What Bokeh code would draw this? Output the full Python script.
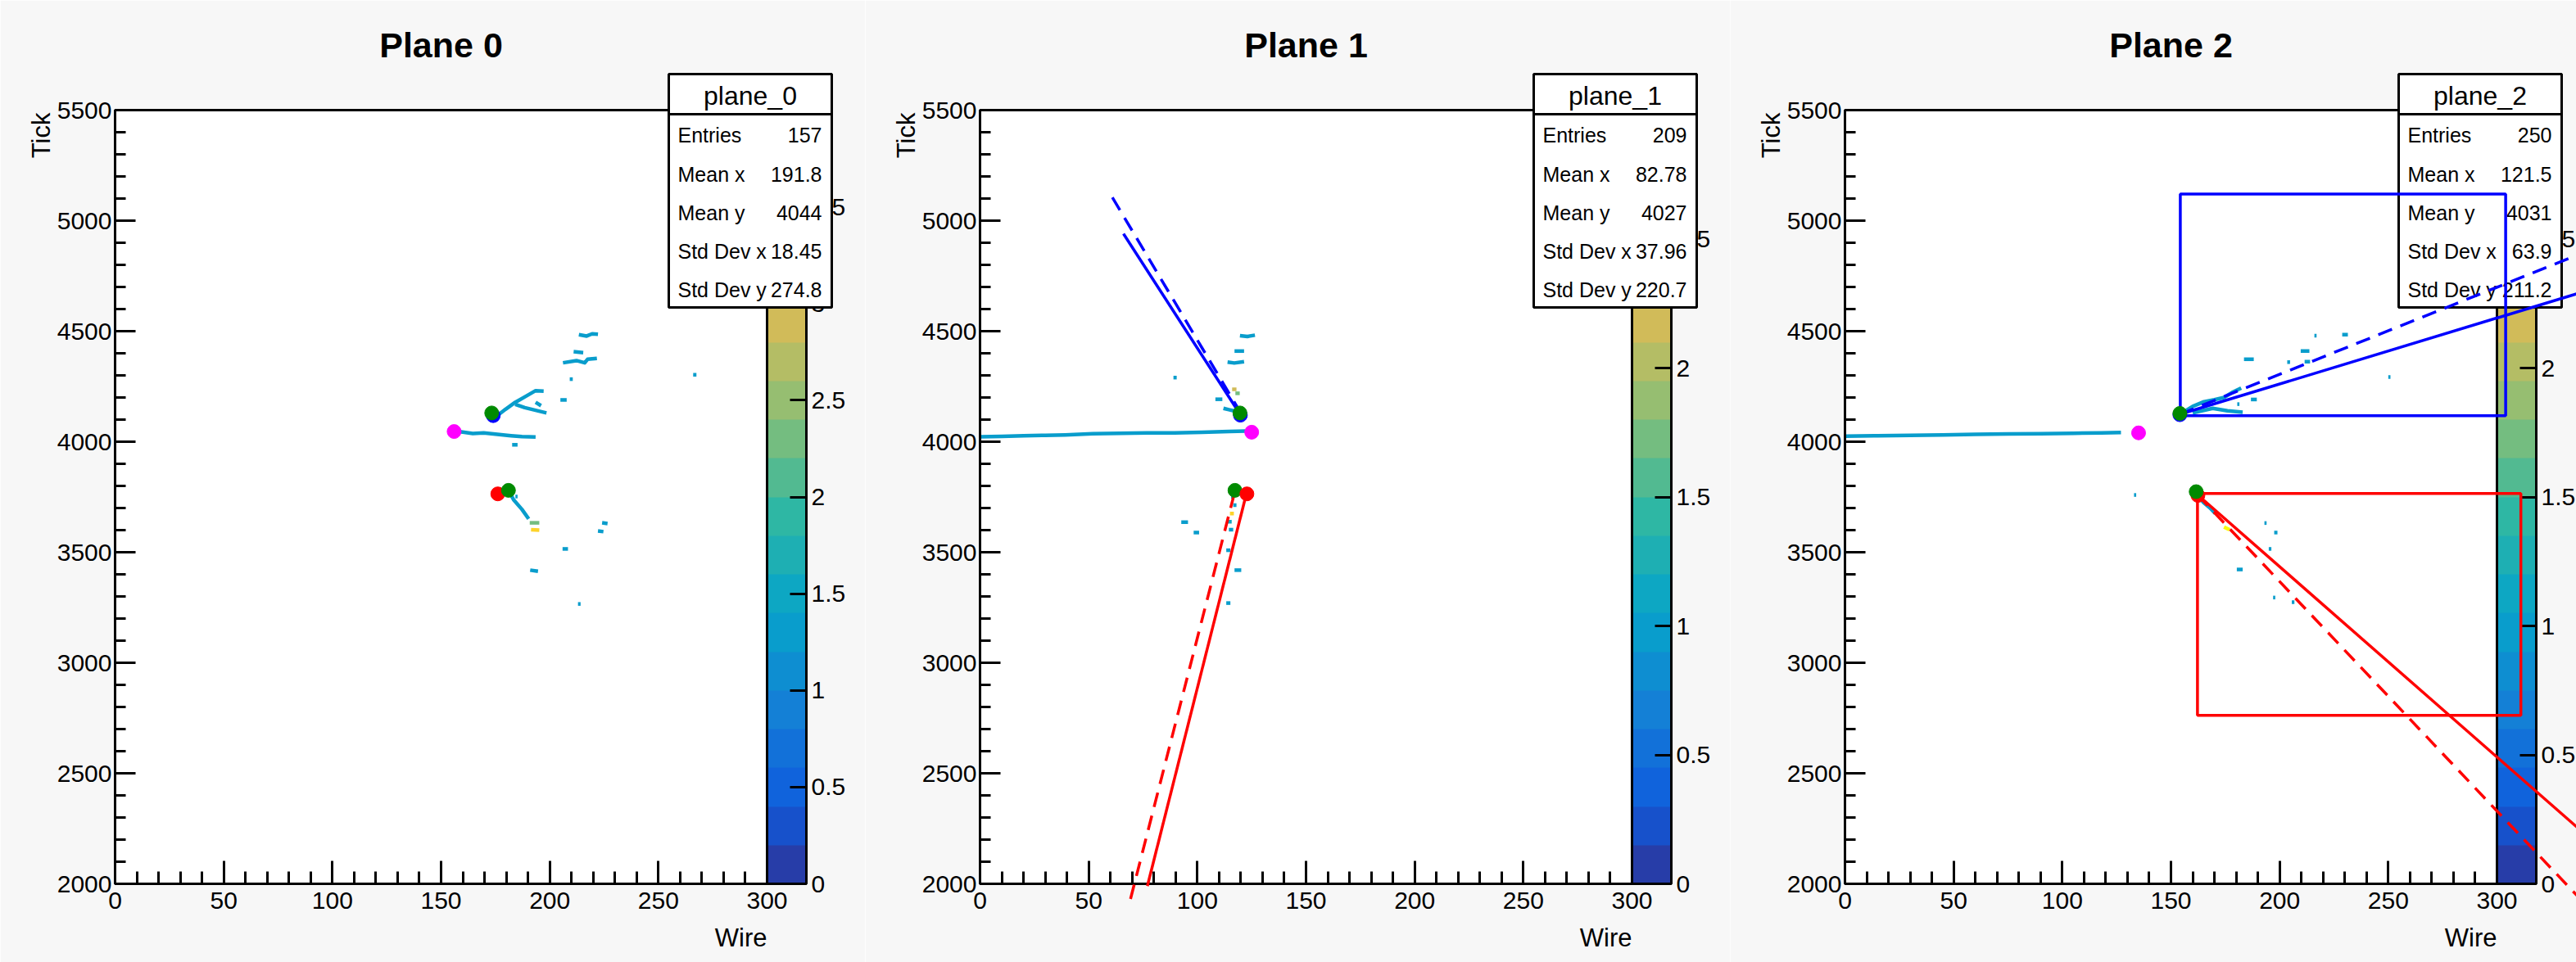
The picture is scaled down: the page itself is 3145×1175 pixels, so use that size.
import math
from bokeh.plotting import figure
from bokeh.layouts import row
from bokeh.models import (Range1d, FixedTicker, ColorBar, LinearColorMapper,
                          ColumnDataSource, NumeralTickFormatter)
from bokeh.core.properties import value
from bokeh.embed import file_html
from bokeh.resources import INLINE

# ---------------------------------------------------------------- data
plane_titles = ["Plane 0", "Plane 1", "Plane 2"]
hist_names = ["plane_0", "plane_1", "plane_2"]
stat_labels = ["Entries", "Mean x", "Mean y", "Std Dev x", "Std Dev y"]
stats_p0 = ["157", "191.8", "4044", "18.45", "274.8"]
stats_p1 = ["209", "82.78", "4027", "37.96", "220.7"]
stats_p2 = ["250", "121.5", "4031", "63.9", "211.2"]
z_max = [4.0, 3.0, 3.0]
x_title = "Wire"
y_title = "Tick"

x_ticks = [0, 50, 100, 150, 200, 250, 300]
y_ticks = [2000, 2500, 3000, 3500, 4000, 4500, 5000, 5500]
z_ticks = [0, 0.5, 1, 1.5, 2, 2.5, 3, 3.5, 4]

# hits (wire, tick polylines of filled bins) with charge value z
p0_hit_wire = [
    [158, 164.6, 169.6, 175.9, 182.2, 187.2, 193.5],
    [176.4, 179.7, 184.1, 189.1, 193.5, 197.2],
    [184.1, 188.5, 193.5, 198.5],
    [193.5, 196.0],
    [204.9, 207.8],
    [209.2, 210.6],
    [206.1, 212.3, 216.1, 217.4, 221.7],
    [211.0, 215.4],
    [213.4, 217.0, 219.5, 222.2],
    [182.7, 185.2],
    [181.6, 183.4, 187.2, 190.3],
    [184.2, 185.2],
    [190.8, 195.2],
    [191.4, 195.2],
    [224.1, 226.6],
    [222.2, 224.7],
    [205.9, 208.4],
    [191.0, 194.6],
    [213.0, 214.2],
    [266.0, 267.5],
]
p0_hit_tick = [
    [4046, 4037, 4040, 4033, 4027, 4023, 4021],
    [4122, 4147, 4178, 4206, 4231, 4229],
    [4169, 4154, 4142, 4130],
    [4178, 4163],
    [4189, 4189],
    [4283, 4283],
    [4357, 4367, 4357, 4373, 4377],
    [4407, 4403],
    [4484, 4478, 4488, 4486],
    [3986, 3986],
    [3770, 3737, 3694, 3651],
    [3752, 3752],
    [3633, 3633],
    [3602, 3600],
    [3633, 3630],
    [3596, 3593],
    [3515, 3515],
    [3419, 3414],
    [3266, 3266],
    [4303, 4303],
]
p0_hit_z = [1.3, 1.3, 1.3, 1.3, 1.3, 1.3, 1.3, 1.3, 1.3, 1.3, 1.3, 1.3,
            2.3, 3.4, 1.3, 1.3, 1.3, 1.3, 1.3, 1.3]

p1_hit_wire = [
    [0, 10, 20, 30, 39.2, 51.8, 64.3, 76.9, 89.5, 102.1, 114.6, 122.2],
    [119.6, 123.0, 126.5],
    [117.1, 121.5],
    [113.9, 117.0, 121.5],
    [89.0, 90.5],
    [108.3, 111.5],
    [116.0, 118.0],
    [117.5, 119.5],
    [112.0, 114.5, 117.1],
    [115.5, 117.0],
    [116.5, 118.0],
    [115.0, 116.8],
    [114.0, 115.8],
    [114.5, 116.5],
    [92.6, 95.7],
    [98.3, 100.8],
    [113.3, 115.2],
    [117.1, 120.2],
    [113.3, 115.2],
]
p1_hit_tick = [
    [4022, 4024, 4027, 4029, 4031, 4036, 4038, 4040, 4040, 4043, 4046, 4048],
    [4480, 4476, 4482],
    [4410, 4410],
    [4360, 4356, 4362],
    [4290, 4290],
    [4192, 4192],
    [4237, 4237],
    [4219, 4219],
    [4151, 4145, 4139],
    [3750, 3750],
    [3713, 3713],
    [3675, 3675],
    [3638, 3638],
    [3602, 3602],
    [3636, 3636],
    [3589, 3589],
    [3509, 3509],
    [3419, 3419],
    [3270, 3270],
]
p1_hit_z = [1.0, 1.0, 1.0, 1.0, 1.0, 1.0, 2.2, 1.8, 1.0, 1.0, 1.0, 2.6,
            1.2, 1.0, 1.0, 1.0, 1.0, 1.0, 1.0]

p2_hit_wire = [
    [0, 15, 30, 45, 60, 75, 90, 105, 118, 127],
    [154.5, 160, 165.2, 170, 174.4, 178, 182.3],
    [160, 169.2, 176, 183],
    [183.6, 188.1],
    [203.5, 204.8],
    [209.7, 213.7],
    [211.5, 214.0],
    [216.0, 217.0],
    [228.8, 231.4],
    [250.0, 251.0],
    [186.8, 189.5],
    [180.5, 181.5],
    [162.5, 165, 168, 170.4],
    [174.4, 177.0],
    [193.0, 194.0],
    [197.5, 199.0],
    [195.0, 196.2],
    [180.3, 183.0],
    [197.0, 198.0],
    [205.6, 206.8],
    [133.0, 134.0],
]
p2_hit_tick = [
    [4025, 4027, 4029, 4031, 4033, 4035, 4036, 4038, 4040, 4042],
    [4126, 4160, 4181, 4190, 4200, 4222, 4243],
    [4130, 4151, 4140, 4133],
    [4373, 4373],
    [4360, 4360],
    [4410, 4410],
    [4362, 4362],
    [4480, 4480],
    [4484, 4484],
    [4293, 4293],
    [4191, 4191],
    [4170, 4170],
    [3755, 3725, 3700, 3675],
    [3614, 3602],
    [3632, 3632],
    [3589, 3589],
    [3515, 3515],
    [3422, 3422],
    [3295, 3295],
    [3274, 3274],
    [3759, 3759],
]
p2_hit_z = [1.0, 1.0, 1.0, 1.0, 1.0, 1.0, 1.0, 1.0, 1.0, 1.0, 1.0, 1.0,
            1.0, 2.9, 1.0, 1.0, 1.0, 1.0, 1.0, 1.0, 1.0]

# reconstructed points (wire, tick)
p0_pt_wire = [174.0, 173.3, 176.1, 181.0, 156.0]
p0_pt_tick = [4118, 4130, 3764, 3780, 4046]
p0_pt_kind = ["blue", "green", "red", "green", "magenta"]
p1_pt_wire = [119.8, 119.6, 117.3, 122.8, 125.0]
p1_pt_tick = [4120, 4130, 3780, 3764, 4043]
p1_pt_kind = ["blue", "green", "green", "red", "magenta"]
p2_pt_wire = [154.1, 154.1, 162.4, 161.6, 135.1]
p2_pt_tick = [4122, 4128, 3757, 3774, 4040]
p2_pt_kind = ["blue", "green", "red", "green", "magenta"]

# direction lines (wire0, tick0, wire1, tick1)
p1_line_w0 = [119.6, 120.3, 122.5, 117.0]
p1_line_t0 = [4125, 4125, 3762, 3765]
p1_line_w1 = [66.0, 59.2, 77.0, 69.0]
p1_line_t1 = [4941, 5133, 1990, 1922]
p1_line_kind = ["blue", "blue", "red", "red"]
p1_line_style = ["solid", "dashed", "solid", "dashed"]

p2_line_w0 = [154.1, 154.1, 162.2, 162.2]
p2_line_t0 = [4124, 4124, 3760, 3760]
p2_line_w1 = [345.0, 345.0, 345.0, 345.0]
p2_line_t1 = [4694, 4876, 2186, 1862]
p2_line_kind = ["blue", "blue", "red", "red"]
p2_line_style = ["solid", "dashed", "solid", "dashed"]

# boxes (left, right, bottom, top)
p2_box_left = [154.3, 162.2]
p2_box_right = [304.0, 311.0]
p2_box_bottom = [4118, 2762]
p2_box_top = [5120, 3766]
p2_box_kind = ["blue", "red"]

# ---------------------------------------------------------------- style
FONT = "Liberation Sans"
FRAME_W, FRAME_H = 796, 945
BORDER_FILL = "#f7f7f7"
KIND_COLOR = {"blue": "#0000ff", "green": "#008a00", "red": "#ff0000", "magenta": "#ff00ff"}
DASH = {"solid": "solid", "dashed": "18 11"}


def kbird(n):
    st = [0.0, 0.125, 0.25, 0.375, 0.5, 0.625, 0.75, 0.875, 1.0]
    rr = [0.2082, 0.0592, 0.0780, 0.0232, 0.1802, 0.5301, 0.8186, 0.9956, 0.9764]
    gg = [0.1664, 0.3599, 0.5041, 0.6419, 0.7178, 0.7492, 0.7328, 0.7862, 0.9832]
    bb = [0.5293, 0.8684, 0.8385, 0.7914, 0.6425, 0.4662, 0.3499, 0.1968, 0.0539]
    out = []
    for i in range(n):
        f = min(int((i + 0.99) * 255 / n) / 254.0, 1.0)
        for k in range(len(st) - 1):
            if st[k] <= f <= st[k + 1]:
                t = (f - st[k]) / (st[k + 1] - st[k])
                c = [a[k] + t * (a[k + 1] - a[k]) for a in (rr, gg, bb)]
                break
        out.append("#%02x%02x%02x" % tuple(int(round(v * 255)) for v in c))
    return out


PALETTE = kbird(20)


def pxw(px):
    # pixel offset from the frame's left edge -> wire coordinate
    return px * 300.0 / FRAME_W


def pxt(py):
    # pixel offset from the frame's top edge -> tick coordinate
    return 5500.0 - py * 3500.0 / FRAME_H


def make_panel(idx, stats, hw, ht, hz, ptw, ptt, ptk, lines, boxes, right_border):
    zmax = z_max[idx]
    p = figure(frame_width=FRAME_W, frame_height=FRAME_H,
               min_border_left=140, min_border_right=right_border,
               min_border_top=134, min_border_bottom=96,
               x_range=Range1d(0, 300), y_range=Range1d(2000, 5500),
               output_backend="svg", toolbar_location=None)
    p.border_fill_color = BORDER_FILL
    p.background_fill_color = "white"
    p.outline_line_color = "black"
    p.outline_line_width = 3
    p.xgrid.visible = False
    p.ygrid.visible = False

    xa = p.xaxis[0]
    xa.ticker = FixedTicker(ticks=x_ticks, minor_ticks=list(range(0, 301, 10)))
    xa.major_tick_in = 28
    xa.major_tick_out = 0
    xa.minor_tick_in = 15
    xa.minor_tick_out = 0
    xa.major_label_standoff = 10
    ya = p.yaxis[0]
    ya.ticker = FixedTicker(ticks=y_ticks, minor_ticks=list(range(2000, 5501, 100)))
    ya.major_tick_in = 25
    ya.major_tick_out = 0
    ya.minor_tick_in = 13
    ya.minor_tick_out = 0
    ya.major_label_standoff = 4
    for ax in (xa, ya):
        ax.axis_line_width = 3
        ax.axis_line_color = "black"
        ax.major_tick_line_width = 3
        ax.minor_tick_line_width = 3
        ax.major_tick_line_color = "black"
        ax.minor_tick_line_color = "black"
        ax.major_label_text_font = FONT
        ax.major_label_text_font_size = "30px"
        ax.major_label_text_color = "black"

    mapper = LinearColorMapper(palette=PALETTE, low=0, high=zmax)

    # hits
    src = ColumnDataSource(dict(xs=hw, ys=ht, z=hz))
    p.multi_line(xs="xs", ys="ys", source=src, line_width=4.5,
                 line_color={"field": "z", "transform": mapper}, line_join="round")

    # colour bar
    cb = ColorBar(color_mapper=mapper, width=48, height=FRAME_H, padding=0, margin=0,
                  location=(0, 0),
                  ticker=FixedTicker(ticks=[t for t in z_ticks if t <= zmax]),
                  formatter=NumeralTickFormatter(format="0.[0]"),
                  major_tick_in=20, major_tick_out=0, major_tick_line_color="black",
                  major_tick_line_width=3, minor_tick_line_color=None,
                  bar_line_color="black", bar_line_width=3,
                  label_standoff=6, major_label_text_font=FONT,
                  major_label_text_font_size="30px", major_label_text_color="black",
                  background_fill_alpha=0, border_line_color=None)
    p.add_layout(cb, "right")

    # title (centred over the frame)
    p.text(x=[pxw(FRAME_W / 2)], y=[pxt(-80)], text=[plane_titles[idx]],
           text_font=value(FONT), text_font_size="43px", text_font_style="bold",
           text_align="center", text_baseline="alphabetic", text_color="black",
           level="overlay")

    # stats box
    L, R, T, B = 676, 875, -44, 241
    p.quad(left=[pxw(L)], right=[pxw(R)], top=[pxt(T)], bottom=[pxt(B)],
           fill_color="white", line_color="black", line_width=3, level="overlay")
    p.segment(x0=[pxw(L)], x1=[pxw(R)], y0=[pxt(5)], y1=[pxt(5)],
              line_color="black", line_width=3, level="overlay")
    p.text(x=[pxw((L + R) / 2)], y=[pxt(-18)], text=[hist_names[idx]],
           text_font=value(FONT), text_font_size="32px", text_align="center",
           text_baseline="middle", text_color="black", level="overlay")
    rows = [30, 78, 125, 172, 219]
    p.text(x=[pxw(L + 11)] * 5, y=[pxt(r) for r in rows], text=stat_labels,
           text_font=value(FONT), text_font_size="25px", text_align="left",
           text_baseline="middle", text_color="black", level="overlay")
    p.text(x=[pxw(R - 12)] * 5, y=[pxt(r) for r in rows], text=stats,
           text_font=value(FONT), text_font_size="25px", text_align="right",
           text_baseline="middle", text_color="black", level="overlay")

    # lines
    if lines is not None:
        w0, t0, w1, t1, kinds, styles = lines
        for a, b, c, d, k, s in zip(w0, t0, w1, t1, kinds, styles):
            p.line(x=[a, c], y=[b, d], line_color=KIND_COLOR[k], line_width=3.5,
                   line_dash=DASH[s], level="overlay")
    if boxes is not None:
        bl, br, bb, bt, bk = boxes
        p.quad(left=bl, right=br, bottom=bb, top=bt, fill_alpha=0,
               line_color=[KIND_COLOR[k] for k in bk], line_width=3.5, level="overlay")

    # points
    p.scatter(x=ptw, y=ptt, size=17, fill_color=[KIND_COLOR[k] for k in ptk],
              line_color=[KIND_COLOR[k] for k in ptk], level="overlay")

    # axis titles (ROOT style: right / top aligned)
    p.text(x=[pxw(FRAME_W)], y=[pxt(FRAME_H + 66)], text=[x_title],
           text_font=value(FONT), text_font_size="31px", text_align="right",
           text_baseline="alphabetic", text_color="black", level="overlay")
    p.text(x=[pxw(-90)], y=[pxt(3)], text=[y_title], angle=math.pi / 2,
           text_font=value(FONT), text_font_size="31px", text_align="right",
           text_baseline="alphabetic", text_color="black", level="overlay")
    return p


p0 = make_panel(0, stats_p0, p0_hit_wire, p0_hit_tick, p0_hit_z,
                p0_pt_wire, p0_pt_tick, p0_pt_kind, None, None, 120)
p1 = make_panel(1, stats_p1, p1_hit_wire, p1_hit_tick, p1_hit_z,
                p1_pt_wire, p1_pt_tick, p1_pt_kind,
                (p1_line_w0, p1_line_t0, p1_line_w1, p1_line_t1, p1_line_kind, p1_line_style),
                None, 120)
p2 = make_panel(2, stats_p2, p2_hit_wire, p2_hit_tick, p2_hit_z,
                p2_pt_wire, p2_pt_tick, p2_pt_kind,
                (p2_line_w0, p2_line_t0, p2_line_w1, p2_line_t1, p2_line_kind, p2_line_style),
                (p2_box_left, p2_box_right, p2_box_bottom, p2_box_top, p2_box_kind), 97)

layout = row(p0, p1, p2, spacing=0)
open("out.html", "w").write(file_html(layout, INLINE))
